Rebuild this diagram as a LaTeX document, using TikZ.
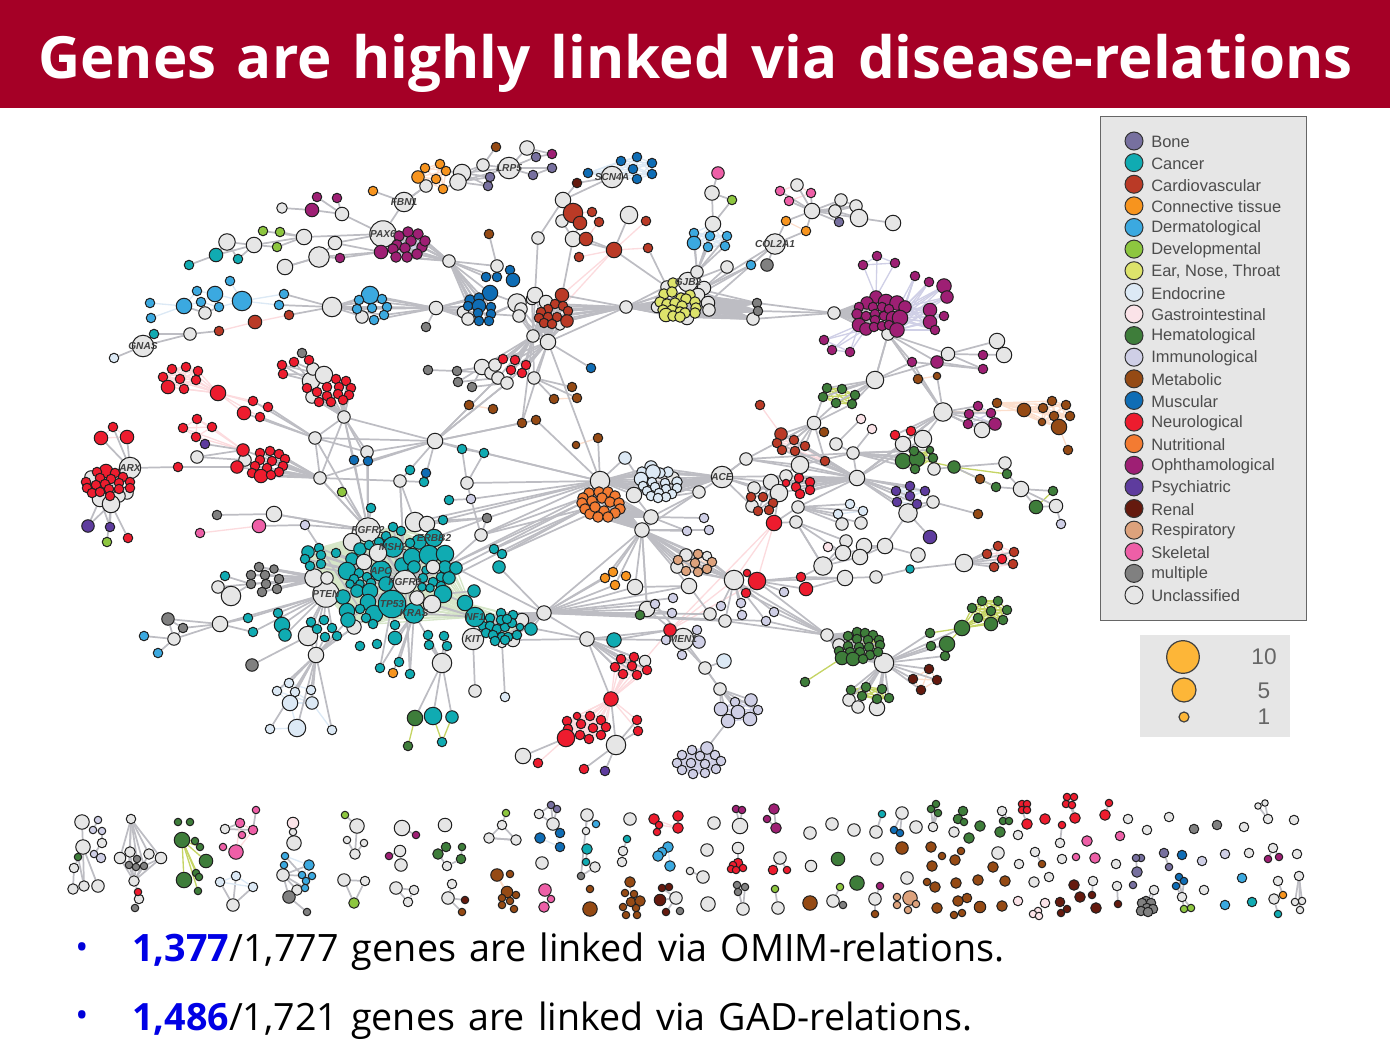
\documentclass[tikz,border=0pt]{standalone}
\usepackage{fontspec}
\setmainfont{Open Sans}
\newfontfamily\titlefont[WordSpace=1.25]{Open Sans}
\newfontfamily\bodyfont[WordSpace=1.35]{Open Sans}
\newfontfamily\legendfont{Liberation Sans}
\usetikzlibrary{backgrounds}

\definecolor{cTitle}{HTML}{A50026}
\definecolor{cBone}{HTML}{77709F}
\definecolor{cCancer}{HTML}{10ABB2}
\definecolor{cCardio}{HTML}{BA3A26}
\definecolor{cConn}{HTML}{F7941E}
\definecolor{cDerm}{HTML}{3BA9E0}
\definecolor{cDevel}{HTML}{8DC63F}
\definecolor{cENT}{HTML}{DDE36B}
\definecolor{cEndo}{HTML}{DCE9F5}
\definecolor{cGastro}{HTML}{FBE3E8}
\definecolor{cHemat}{HTML}{3E7D3A}
\definecolor{cImmun}{HTML}{CFCFE6}
\definecolor{cMetab}{HTML}{954A14}
\definecolor{cMuscle}{HTML}{0F6DB5}
\definecolor{cNeuro}{HTML}{ED1C2E}
\definecolor{cNutri}{HTML}{F37B32}
\definecolor{cOphth}{HTML}{9E1F74}
\definecolor{cPsych}{HTML}{5E3C9E}
\definecolor{cRenal}{HTML}{651A0E}
\definecolor{cResp}{HTML}{DDA27C}
\definecolor{cSkel}{HTML}{EE5FA7}
\definecolor{cMulti}{HTML}{808080}
\definecolor{cUnc}{HTML}{E6E6E6}
\definecolor{cLink}{HTML}{BDBDC3}
\definecolor{cTint}{HTML}{D6E6C8}
\definecolor{cSize}{HTML}{FDB638}

\tikzset{
	gene/.style={circle,draw=black!88,line width=0.75pt,inner sep=0pt,fill=#1},
	link/.style={draw=cLink,line width=1.3pt},
	pinklink/.style={draw=cNeuro!16,line width=1pt},
	greenlink/.style={draw=cTint,line width=1pt},
	limelink/.style={draw=cENT!85!cHemat,line width=1pt},
	bluelink/.style={draw=cEndo,line width=1pt},
	purplelink/.style={draw=cImmun,line width=1pt},
	orangelink/.style={draw=cNutri!25,line width=1pt},
	genelabel/.style={font=\legendfont\bfseries\itshape\fontsize{7.6}{8}\selectfont,text=black!75,inner sep=0pt},
	legendtext/.style={font=\legendfont\fontsize{12.35}{14}\selectfont,text=black!70,anchor=west,inner sep=0pt},
	legenddot/.style={circle,draw=black!80,line width=0.75pt,inner sep=0pt,minimum size=13.5pt,fill=#1},
	sizedot/.style={circle,draw=black!75,line width=0.9pt,inner sep=0pt,fill=#1},
	sizetext/.style={font=\legendfont\fontsize{17}{20}\selectfont,text=black!60,inner sep=0pt}
}

% nodes of one group: prefix, colour, x/y/diameter in pixels
\newcommand{\genes}[3]{%
	\foreach \x/\y/\d [count=\i] in {#3} {
		\node[gene=#2,minimum size={(\d+1.5)*0.75pt},alias=#1-\x] (#1\i) at (\x,\y) {};
		\expandafter\xdef\csname size#1\endcsname{\i}
	}
}
% hub to all nodes of a group
\newcommand{\fan}[3][link]{%
	\edef\topn{\csname size#3\endcsname}
	\foreach \k in {1,...,\topn} \draw[#1] (#2) -- (#3\k);
}
% all pairs inside a group
\newcommand{\mesh}[2][link]{%
	\edef\topn{\csname size#2\endcsname}
	\foreach \k in {1,...,\topn} \foreach \m in {1,...,\topn} {
		\ifnum\k<\m \draw[#1] (#2\k) -- (#2\m); \fi
	}
}

\begin{document}
\begin{tikzpicture}[x=0.75pt,y=-0.75pt]
	\useasboundingbox (0,0) rectangle (1390,1043);

	% Title bar and bottom lines
	\fill[cTitle] (0,0) rectangle (1390,108);
	\node[anchor=base west,inner sep=0pt,text=white,font=\titlefont\bfseries\fontsize{43.7}{50}\selectfont] (title) at (38,78) {Genes are highly linked via disease-relations};
	\node[text=blue!85!black,font=\fontsize{26}{30}\selectfont,inner sep=0pt] (bulletA) at (82,951) {\textbullet};
	\node[text=blue!85!black,font=\fontsize{26}{30}\selectfont,inner sep=0pt] (bulletB) at (82,1019) {\textbullet};
	\node[anchor=base west,inner sep=0pt,font=\bodyfont\fontsize{28.3}{30}\selectfont] (lineA) at (132,961) {\textcolor{blue!90!black}{\textbf{1,377}}/1,777 genes are linked via OMIM-relations.};
	\node[anchor=base west,inner sep=0pt,font=\bodyfont\fontsize{28.2}{30}\selectfont] (lineB) at (132,1030) {\textcolor{blue!90!black}{\textbf{1,486}}/1,721 genes are linked via GAD-relations.};

	% Legend
	\draw[draw=black!60,fill=cUnc,line width=0.75pt] (1100,116) rectangle (1306,620);
	\foreach \lab/\col [count=\i from 0] in {Bone/cBone,Cancer/cCancer,Cardiovascular/cCardio,Connective tissue/cConn,Dermatological/cDerm,Developmental/cDevel,{Ear, Nose, Throat}/cENT,Endocrine/cEndo,Gastrointestinal/cGastro,Hematological/cHemat,Immunological/cImmun,Metabolic/cMetab,Muscular/cMuscle,Neurological/cNeuro,Nutritional/cNutri,Ophthamological/cOphth,Psychiatric/cPsych,Renal/cRenal,Respiratory/cResp,Skeletal/cSkel,multiple/cMulti,Unclassified/cUnc} {
		\node[legenddot=\col] (dot\i) at (1134,{141+21.62*\i}) {};
		\node[legendtext] (legend\i) at (1151,{142+21.62*\i}) {\lab};
	}
	\fill[cUnc] (1140,635) rectangle (1290,737);
	\node[sizedot=cSize,minimum size=24.5pt] (sizeA) at (1183,657) {};
	\node[sizedot=cSize,minimum size=18pt] (sizeB) at (1184,690) {};
	\node[sizedot=cSize,minimum size=7.5pt] (sizeC) at (1184,717) {};
	\node[sizetext] (sizeTextA) at (1264,657) {10};
	\node[sizetext] (sizeTextB) at (1264,691) {5};
	\node[sizetext] (sizeTextC) at (1264,717) {1};

	% Unclassified genes of the network
	\genes{u}{cUnc}{282/208/9,342/214/12,304/237/14,254/245/14,227/242/15,335/243/12,319/257/19,285/267/14,383/234/25,404/202/18,205/313/11,332/307/18,362/317/11,190/334/11,143/346/20,426/186/11,462/173/16,458/182/15,483/165/11,509/168/20,527/148/13,612/177/20,563/200/14,562/221/11,573/239/14,538/238/11,629/215/16,449/261/11,497/266/11,436/308/12,463/312/10,468/319/11,517/303/17,532/299/10,535/295/14,521/309/11,519/316/11,546/302/12,560/325/9,533/336/11,548/342/14,626/307/11,688/282/18,667/287/11,704/288/12,698/295/12,708/303/12,709/310/11,657/307/10,687/318/12,697/272/11,727/267/11,713/224/14,712/193/13,797/185/11,812/211/14,841/200/11,856/206/11,835/211/11,859/218/16,893/223/14,775/244/19,753/319/11,834/313/11,888/334/11,948/354/12,997/341/14,1004/355/14,875/380/16,943/412/17,982/430/14,903/444/14,923/439/16,934/469/11,1005/463/11,1021/489/14,1056/506/12,857/478/14,853/453/11,836/444/11,814/423/12,746/459/11,800/465/16,786/476/11,771/482/14,754/488/11,779/493/16,798/507/11,752/506/11,796/522/11,908/513/17,933/502/11,842/524/11,861/523/11,885/546/14,918/555/13,864/546/14,846/541/11,843/553/14,860/557/14,823/566/17,845/578/14,876/577/11,964/563/16,311/381/16,313/369/11,324/375/16,312/397/11,344/417/11,315/438/11,367/452/11,320/478/11,400/481/11,435/441/14,197/457/11,245/460/11,130/468/20,91/477/11,127/493/11,119/496/11,100/499/14,111/504/16,274/514/14,415/522/18,427/524/14,368/530/23,352/542/16,326/594/25,314/578/17,327/578/11,231/596/18,218/587/11,220/624/14,308/636/18,316/655/14,174/639/11,354/627/13,442/663/18,473/639/20,475/691/11,513/640/12,522/620/12,502/643/8,482/367/14,491/373/11,495/365/11,498/378/11,507/383/11,534/378/11,481/535/11,467/483/11,600/481/18,634/495/14,651/517/13,642/530/13,699/492/11,722/477/20,673/478/11,686/555/11,707/556/8,677/567/11,734/580/18,689/586/14,635/587/14,544/613/13,647/609/14,710/614/11,725/621/11,587/639/13,683/639/20,705/668/11,720/689/11,645/661/10,616/745/18,523/756/14,827/635/11,839/645/11,884/663/18,849/700/11,858/707/11,877/708/14}

	% Coloured genes of the network, cluster by cluster
	\genes{can}{cCancer}{308/552/11,319/548/8,305/559/8,321/555/8,321/564/8,310/566/8,336/553/8,360/549/11,352/559/11,369/545/8,379/542/8,386/536/8,393/527/8,401/531/8,393/547/19,381/571/19,347/571/16,359/573/8,354/579/8,367/577/8,350/584/7,360/584/7,357/591/11,371/583/8,370/591/14,386/584/13,402/565/13,412/557/16,414/567/11,419/542/13,434/538/16,410/543/8,429/555/18,445/554/16,426/570/7,445/567/11,456/568/11,441/577/8,449/578/11,423/578/8,433/582/8,441/586/8,422/587/7,430/588/7,443/594/16,343/597/13,368/602/14,347/611/14,348/620/13,360/609/8,374/614/16,366/618/8,373/624/8,392/604/26,414/613/19}
	\genes{u}{cUnc}{378/553/16,364/562/14,433/567/12,405/582/22,417/598/13,432/604/16}
	\genes{canb}{cCancer}{490/618/8,501/613/8,513/615/8,483/626/8,490/626/8,497/629/8,505/627/8,512/623/8,486/633/8,493/635/8,502/637/8,508/637/8,517/635/8,495/641/8,505/640/8,501/620/8,520/627/6,507/619/8}
	\genes{ca}{cCancer}{189/265/8,216/255/12,238/259/8,154/334/8,410/470/8,424/482/8,462/449/8,484/453/8,371/508/8,449/500/8,443/520/8,494/549/8,502/554/8,499/567/11,474/591/11,465/603/14,475/617/18,531/629/11,614/640/13,225/576/8,278/613/8,248/618/8,253/632/8,282/625/14,285/635/11,311/622/8,324/620/8,317/629/8,332/628/8,325/637/8,337/636/8,395/625/8,395/638/12,377/644/8,360/646/8,380/668/8,399/662/8,410/674/8,428/635/8,444/636/8,429/645/8,447/646/8,433/716/16,452/717/11,442/742/8,910/569/7}
	\genes{opa}{cOphth}{399/236/9,408/232/9,418/234/9,411/241/9,397/245/9,393/249/9,405/248/9,422/247/9,425/241/9,417/254/9,396/257/9,407/257/9}
	\genes{op}{cOphth}{312/210/12,317/197/8,337/198/8,340/258/8,381/252/12,552/154/8,983/355/8,983/369/8,937/362/11,912/362/8}
	\genes{opb}{cOphth}{876/297/11,886/302/14,897/303/13,905/307/11,867/303/11,859/307/8,857/314/9,866/316/8,873/307/8,875/314/8,882/307/8,884/316/8,889/309/8,893/318/12,900/318/14,859/325/12,866/329/11,875/320/8,874/327/8,882/326/8,889/325/8,897/330/13}
	\genes{opc}{cOphth}{877/256/8,863/265/8,895/263/8}
	\genes{opd}{cOphth}{915/276/8,929/282/8,944/286/13,947/297/11,930/310/12,944/316/8,930/322/12,935/330/8}
	\genes{ope}{cOphth}{824/340/8,832/350/8,850/352/8}
	\genes{opf}{cOphth}{978/406/8,991/413/8,968/424/8,969/414/8,995/424/11}
	\genes{nea}{cNeuro}{172/369/8,186/367/8,198/371/8,163/377/8,180/379/8,196/380/8,168/387/12,184/389/8}
	\genes{neb}{cNeuro}{253/401/8,268/407/8,244/413/12,260/417/8}
	\genes{nec}{cNeuro}{282/365/8,294/362/8,309/360/8,283/374/8}
	\genes{ned}{cNeuro}{307/388/8,336/379/8,346/381/8,327/387/8,351/388/8,339/387/8,317/392/8,338/394/8,349/395/8,327/396/8,319/402/8,331/402/8,343/400/8}
	\genes{nee}{cNeuro}{197/419/8,183/428/8,212/427/8,196/437/8}
	\genes{nef}{cNeuro}{243/450/11,237/467/11,260/453/8,270/451/8,279/454/8,260/460/8,272/461/8,285/459/8,255/466/8,267/468/8,283/466/8,252/473/8,279/472/8,261/476/12,271/475/8}
	\genes{neg}{cNeuro}{113/427/8,101/438/12,127/437/12}
	\genes{neh}{cNeuro}{106/471/12,97/472/8,115/473/8,100/478/8,111/479/8,123/477/8,86/482/8,105/484/8,119/483/8,130/482/8,96/485/8,87/488/8,109/489/8,119/489/8,130/488/8,92/493/8,100/492/8,110/496/8}
	\genes{nei}{cNeuro}{503/359/8,515/360/8,526/365/8,511/370/8,522/373/8}
	\genes{nej}{cNeuro}{799/478/8,810/482/8,796/487/8,810/490/8,800/494/8,786/483/6}
	\genes{nek}{cNeuro}{621/659/8,634/657/8,615/667/8,632/666/8,647/670/8,623/674/8,637/675/8}
	\genes{nel}{cNeuro}{577/716/6,567/721/8,590/716/8,601/720/8,581/724/8,606/727/8,593/728/8,568/729/8,580/735/8,601/735/8,589/739/8,566/738/16}
	\genes{ne}{cNeuro}{218/393/14,178/467/8,128/538/8,895/435/8,911/431/8,774/523/14,1002/559/8,757/581/16,747/573/6,746/593/8,801/577/8,806/589/12,670/630/11,611/699/13,637/720/8,638/731/8,538/763/8,584/769/8}
	\genes{cara}{cCardio}{562/295/12,555/304/8,563/306/8,548/309/8,568/311/8,541/312/8,557/317/8,548/317/8,539/318/8,567/321/11,544/323/8,552/324/8}
	\genes{carb}{cCardio}{781/434/11,794/440/8,777/443/8,805/446/8,782/450/8,795/451/8,825/461/8}
	\genes{carc}{cCardio}{751/497/8,763/497/8,773/503/8,769/510/8,758/511/8}
	\genes{card}{cCardio}{998/546/8,987/554/8,1014/552/8,1013/564/8,994/567/8}
	\genes{cv}{cCardio}{289/315/8,255/322/12,219/331/8,573/213/18,592/212/8,599/222/8,580/223/12,586/239/12,579/257/8,614/250/14,646/221/8,648/248/8,760/405/8}
	\genes{mua}{cMuscle}{490/293/14,470/300/9,479/298/9,468/306/8,479/306/12,491/307/8,478/313/8,491/314/8,479/321/8,489/321/8}
	\genes{mub}{cMuscle}{510/270/8,486/277/8,497/277/8,513/280/12}
	\genes{muc}{cMuscle}{637/157/8,621/161/8,652/163/8,633/169/8,652/174/8,637/179/8,588/173/8}
	\genes{mu}{cMuscle}{591/368/8,354/460/8,368/461/8,426/473/8}
	\genes{dea}{cDerm}{230/281/8,215/294/14,197/291/8,201/302/8,184/306/14,219/307/8,242/301/18,150/303/8,151/318/8}
	\genes{deb}{cDerm}{284/294/8,279/305/8}
	\genes{dec}{cDerm}{370/295/16,359/300/8,382/299/8,387/307/8,372/308/8,357/309/8,384/315/8,374/320/8}
	\genes{ded}{cDerm}{694/233/8,710/236/8,727/236/8,694/243/12,708/247/8,725/246/8}
	\genes{de}{cDerm}{751/265/8,144/636/8,158/653/8}
	\genes{mea}{cMetab}{997/403/8,1024/410/12,1043/408/8,1052/401/8,1066/405/8,1054/416/8,1070/416/8,1042/422/6,1059/427/14}
	\genes{me}{cMetab}{496/147/8,489/234/8,469/405/8,493/409/8,572/387/8,577/398/8,554/399/8,522/423/8,536/420/8,598/438/8,576/445/6,918/379/8,937/376/6,824/432/8,980/479/8,978/514/8,1068/450/8}
	\genes{coa}{cConn}{440/164/8,425/168/8,446/171/8,418/177/11,436/179/8,443/189/8}
	\genes{co}{cConn}{373/191/8,786/221/8,806/231/8,613/572/8,626/576/8,605/578/8,615/585/8,393/673/8}
	\genes{nu}{cNutri}{589/493/9,599/492/9,608/492/9,615/496/9,583/498/9,592/501/9,602/498/9,610/502/9,619/503/9,582/503/9,620/509/9,585/509/9,604/511/9,615/513/9,590/514/9,598/517/9,608/517/9,595/507/9}
	\genes{ena}{cEndo}{651/467/11,642/472/9,668/472/9,660/473/9,653/472/13,641/479/12,652/482/8,665/483/8,677/482/9,643/486/8,655/487/8,677/488/8,647/491/8,666/489/8,659/493/8,672/494/8,651/496/8,666/497/8,658/498/8}
	\genes{enb}{cEndo}{850/504/8,863/511/8,838/514/8}
	\genes{enc}{cEndo}{289/683/8,277/691/8,295/692/8,311/690/8,290/703/14,312/703/11,297/728/16,270/729/8,332/730/8}
	\genes{en}{cEndo}{114/358/8,625/458/11,724/661/13,505/697/8}
	\genes{ima}{cImmun}{721/709/12,735/702/8,751/700/11,758/710/8,738/712/12,750/719/12,728/721/12}
	\genes{imb}{cImmun}{707/748/11,692/750/8,682/755/8,700/756/8,715/755/8,721/761/8,677/763/8,691/763/8,705/764/8,682/770/8,716/769/8,693/774/8,705/773/8}
	\genes{im}{cImmun}{471/499/8,305/525/8,704/518/8,687/531/8,709/530/8,784/592/8,673/598/8,655/604/8,672/613/8,721/606/8,741/603/8,742/615/8,774/612/8,766/621/8,697/630/8,699/642/11,666/640/8,682/655/8,1061/524/8}
	\genes{mxa}{cMulti}{259/567/8,274/569/7,251/575/8,265/575/8,279/579/8,251/584/8,266/584/8,277/589/8,262/592/8}
	\genes{mx}{cMulti}{217/515/8,252/665/11,168/619/11,183/628/8,426/327/8,302/353/8,428/370/8,457/371/8,458/382/8,472/387/8,757/303/8,758/311/8,767/265/11,487/518/8}
	\genes{bo}{cBone}{536/157/8,552/168/8,533/175/8,490/177/8,488/186/8,839/222/8}
	\genes{sk}{cSkel}{718/173/11,780/191/8,811/193/8,789/201/8,259/526/12,200/533/8}
	\genes{dv}{cDevel}{263/231/8,280/232/8,277/247/8,732/200/8,342/492/8,107/542/8}
	\genes{psa}{cPsych}{910/486/8,896/491/8,925/491/8,910/496/8,897/502/8,917/504/8}
	\genes{ps}{cPsych}{205/444/8,88/526/11,110/527/8,605/771/8,930/537/12}
	\genes{re}{cRenal}{577/183/8}
	\genes{rea}{cRenal}{929/669/8,913/679/8,937/680/8,921/690/8}
	\genes{resp}{cResp}{698/554/8,678/560/8,695/563/8,712/562/8,686/571/8,698/572/8,707/569/8}
	\genes{ent}{cENT}{673/283/9,664/294/9,672/292/9,690/295/9,681/298/9,660/302/9,667/304/9,675/303/9,686/299/9,695/302/9,682/306/9,696/308/9,672/310/9,663/310/9,680/312/9,695/313/9,666/315/12,685/313/9,673/316/9,680/317/9}
	\genes{ga}{cGastro}{861/419/8,872/429/8,828/547/8}
	\genes{hea}{cHemat}{848/636/8,857/632/8,865/633/8,873/635/8,879/640/8,857/639/8,868/640/8,848/646/8,859/647/8,869/647/8,880/645/8,839/651/8,850/652/8,860/652/8,870/655/8,878/652/8,842/658/12,853/659/12,863/659/8}
	\genes{heb}{cHemat}{827/388/8,842/389/8,823/397/8,855/395/8,836/403/8,852/404/8}
	\genes{hec}{cHemat}{903/461/14,917/459/14,914/451/8,930/450/6,933/458/8,915/469/8}
	\genes{hed}{cHemat}{930/633/8,931/646/8,947/644/14,945/656/8}
	\genes{hee}{cHemat}{962/628/14,982/601/8,998/601/8,972/608/8,1007/610/8,991/611/8,978/618/8,1003/620/8,991/624/12}
	\genes{hef}{cHemat}{851/690/8,866/687/8,882/689/8,862/696/8,877/699/8,889/698/8}
	\genes{he}{cHemat}{954/467/11,1007/474/8,996/487/8,1053/491/8,1036/507/12,640/615/8,805/682/8,415/718/14,408/746/8}

	% Small components in the row below the network
	\genes{v}{cUnc}{82/822/13,102/843/8,83/847/13,74/868/8,73/889/9,84/886/9,98/886/11,131/819/8,120/858/10,130/852/9,149/854/9,161/858/10,134/881/9,139/899/8,225/829/8,233/905/11,294/843/13,293/832/6,283/875/11,297/890/9,357/826/13,347/840/6,364/843/6,355/854/9,344/880/11,365/881/8,402/828/14,400/851/10,401/865/11,396/888/11,414/890/8,408/902/8,445/825/12,447/866/8,452/884/8,448/898/11,502/825/8,489/838/9,516/840/9,539/814/8,553/824/11,542/863/11,587/815/11,586/831/6,595/867/9,630/819/11,623/851/8,622/862/8,676/898/11,690/871/6,703/877/11,714/823/11,707/850/11,740/826/14,738/848/10,780/858/11,811/866/10,708/904/13,743/909/11,778/908/11,810/833/11,832/824/11,854/830/11,902/813/11,876/832/11,916/827/11,877/859/11,833/901/11,875/899/11,907/878/11,933/827/8,954/832/9,1002/811/8,1018/835/8,1060/843/8,998/853/11,1019/864/8,1128/819/8,1147/830/8,1169/817/8,1244/827/8,1258/806/5,1265/803/5,1268/819/8,1294/820/8,1035/852/8,1062/859/8,1116/864/8,1249/853/8,1273/848/8,1297/854/8,1034/882/9,1049/877/8,1093/881/8,1117/886/8,1154/890/8,1182/897/8,1204/890/8,1278/881/8,1274/899/9,1299/876/8,1302/901/6,1295/902/6,1300/910/6}
	\genes{rim}{cImmun}{98/820/6,93/830/6,102/831/6,94/854/6,101/858/8,1202/861/8,1225/854/8}
	\genes{rhe}{cHemat}{78/857/6,178/822/6,190/822/6,182/840/14,195/841/6,200/847/6,206/861/12,196/873/6,199/877/6,184/880/14,198/891/6,446/847/8,462/847/6,438/854/9,461/859/8,838/859/12,857/883/13,931/809/6,936/804/6,938/813/6,963/811/8,958/819/8,964/822/6,980/826/9,969/838/9,1003/821/6,1009/821/6,1000/832/9}
	\genes{rmx}{cMulti}{137/859/6,129/865/6,144/866/6,136/867/6,135/908/6,289/897/11,307/912/6,581/876/6,680/911/6,737/885/6,745/887/6,738/892/6,843/905/6,1194/829/8,1217/825/8}
	\genes{rmy}{cMulti}{1146/901/8,1142/903/8,1151/903/8,1147/908/8,1141/911/8,1153/909/8,1148/912/8}
	\genes{rsk}{cSkel}{256/810/6,240/823/8,253/830/8,242/835/6,223/847/6,236/852/13,545/890/11,551/899/6,544/907/9,1120/836/8,1087/841/9,1076/857/6,1095/858/9}
	\genes{ren}{cEndo}{220/882/8,236/876/8,253/887/8}
	\genes{rga}{cGastro}{293/823/10,1018/901/8,1045/903/8,1038/911/6,1033/914/6,1039/916/6}
	\genes{rde}{cDerm}{285/856/6,309/865/9,284/865/6,302/875/6,312/876/6,306/881/6,305/888/6,596/824/6,668/847/9,662/852/8,658/856/9,670/866/9,1242/878/8,1225/905/8}
	\genes{rdv}{cDevel}{345/815/6,354/903/9,506/813/6,775/889/6,840/887/6,1184/909/6,1191/908/6}
	\genes{rop}{cOphth}{416/835/6,389/856/6,736/809/6,742/810/6,774/809/9,767/819/6,776/828/9,880/886/6,1268/859/6,1279/857/6}
	\genes{rre}{cRenal}{465/900/6,662/888/6,669/887/6,660/900/10,666/912/6,1074/885/9,1092/895/6,1118/904/6,1080/897/9,1096/908/9,1060/902/8,1067/909/6,1061/913/6}
	\genes{rme}{cMetab}{462/912/6,497/875/11,510/874/6,507/892/10,516/895/6,502/898/6,510/901/6,502/905/6,514/909/6,590/889/6,590/909/13,630/882/9,625/893/6,634/894/6,631/902/8,640/901/9,623/907/6,636/908/6,626/915/6,637/915/6,810/903/13,875/914/6,927/882/6,935/887/9,902/848/11,931/847/9,942/856/6,961/851/6,955/860/9,932/866/9,993/867/9,956/883/9,978/880/9,1005/881/9,937/908/9,958/901/9,967/898/8,962/913/6,954/915/6,980/907/10,1002/906/9,1042/864/6}
	\genes{rbo}{cBone}{551/805/6,557/809/6,1141/858/6,1136/858/6,1137/872/9,1164/853/8,1169/867/6,1133/885/6}
	\genes{rmu}{cMuscle}{560/833/8,540/838/9,560/847/8,894/830/6,900/833/6,1182/855/8,1179/877/6,1184/881/6,1176/886/6}
	\genes{rne}{cNeuro}{138/892/6,654/819/9,678/816/9,659/825/6,678/828/9,657/832/6,738/863/8,733/865/6,743/868/6,731/869/6,736/870/6,773/870/8,787/870/6,1022/804/6,1027/804/6,1022/810/6,1027/810/6,1027/824/9,1045/819/9,1062/825/6,1067/797/6,1074/797/6,1066/804/6,1072/805/6,1075/818/9,1109/803/6,1105/815/9}
	\genes{rca}{cCancer}{587/849/9,586/862/6,627/839/6,882/814/6,1252/902/8,1278/914/6}
	\genes{rrs}{cResp}{910/898/13,897/897/6,897/905/6,916/904/6,908/910/6}
	\genes{rco}{cConn}{1283/895/6}

	% Gene names
	\foreach \hub/\txt in {u-404/FBN1,u-509/LRP5,u-612/SCN4A,u-383/PAX6,u-143/GNAS,u-688/GJB2,u-775/COL2A1,u-130/ARX,u-722/ACE,u-368/FGFR2,can-393/MSH2,can-434/ERBB2,can-381/APC,u-405/FGFR3,u-326/PTEN,can-392/TP53,can-414/KRAS,ca-475/NF1,u-473/KIT,u-683/MEN1}
		\node[genelabel] (name\txt) at (\hub) {\txt};

	\begin{scope}[on background layer]
		% Tinted edges within clusters
		\mesh[greenlink]{can}
		\mesh[greenlink]{canb}
		\fan[greenlink]{ca-475}{can}
		\fan[greenlink]{u-326}{can}
		\fan[greenlink]{ca-465}{canb}
		\mesh[bluelink]{muc}
		\mesh[bluelink]{ded}
		\mesh[bluelink]{psa}
		\mesh[bluelink]{enb}
		\mesh[pinklink]{nea}
		\mesh[pinklink]{nee}
		\mesh[pinklink]{neg}
		\mesh[pinklink]{nek}
		\mesh[pinklink]{nel}
		\mesh[pinklink]{carb}
		\mesh[pinklink]{card}
		\mesh[orangelink]{coa}
		\mesh[orangelink]{mea}
		\mesh[orangelink]{rea}
		\mesh[orangelink]{resp}
		\mesh[limelink]{heb}
		\mesh[limelink]{hec}
		\mesh[limelink]{hee}
		\mesh[limelink]{hef}
		\mesh[limelink]{hea}
		\mesh[purplelink]{opa}
		\mesh[purplelink]{opc}
		\mesh[purplelink]{ope}
		\mesh[purplelink]{opf}
		\mesh[purplelink]{ima}
		\mesh[purplelink]{imb}
		\fan[pinklink]{ne-218}{nea}
		\fan[pinklink]{ne-218}{neb}
		\fan[pinklink]{nef-243}{nee}
		\fan[pinklink]{ne-611}{nek}
		\fan[pinklink]{ne-611}{nel}
		\fan[purplelink]{opb-905}{opd}
		\fan[purplelink]{opb-900}{opd}
		\fan[purplelink]{opb-897}{opd}
		\fan[purplelink]{opb-893}{opd}
		\fan[purplelink]{opb-876}{opc}
		\fan[purplelink]{opb-859}{ope}
		\fan[purplelink]{opb-866}{ope}
		\fan[bluelink]{u-612}{muc}
		\fan[bluelink]{u-713}{ded}
		\foreach \a/\b in {dea-150/dea-184,dea-151/dea-184,dea-184/dea-197,dea-184/dea-201,dea-201/dea-215,dea-215/dea-242,dea-219/dea-242,dea-197/dea-215,dea-230/dea-242,dea-219/dea-215,dea-201/dea-219,dea-242/deb-284,dea-242/deb-279,enc-289/enc-277,enc-289/enc-295,enc-289/enc-311,enc-277/enc-290,enc-295/enc-290,enc-295/enc-312,enc-290/enc-312,enc-311/enc-312,enc-277/enc-312,enc-290/enc-297,enc-270/enc-297,enc-312/enc-332}
			\draw[bluelink] (\a) -- (\b);
		\foreach \a/\b in {ne-670/ne-611,u-734/ne-670,ne-757/ne-670,ne-774/ne-757,ne-774/u-734,ne-774/ne-670,ne-611/ne-637,ne-611/ne-638,nel-566/ne-538,cv-289/cv-255,cv-255/cv-219,cv-579/cv-614,cv-614/cara-562,cv-614/cara-563,cv-614/cv-646,cv-614/cv-648,cv-573/cv-592,cv-599/cv-586,cv-592/cv-599,cv-760/carb-781,sk-259/sk-200,sk-780/u-797,sk-811/u-797,sk-789/sk-811}
			\draw[pinklink] (\a) -- (\b);
		\foreach \a/\b in {hec-917/he-954,he-954/he-1007,he-954/he-996,he-1053/he-1036,hee-962/hed-947,hee-962/hed-930,he-805/hea-842,he-415/he-408,ca-433/ca-442,ca-452/ca-442}
			\draw[limelink] (\a) -- (\b);
		\foreach \a/\b in {me-469/me-493,me-554/me-577,me-576/me-598,me-918/me-937,co-786/co-806,u-943/mea-1024,me-1068/mea-1059}
			\draw[orangelink] (\a) -- (\b);

		% Hubs to clusters
		\fan{u-449}{opa}
		\fan{u-383}{opa}
		\fan{u-449}{mua}
		\fan{u-436}{mua}
		\fan{u-436}{dec}
		\fan{u-332}{dec}
		\fan{u-533}{cara}
		\fan{u-548}{cara}
		\fan{u-626}{cara}
		\fan{u-626}{ent}
		\fan{mx-757}{ent}
		\fan{mx-758}{ent}
		\fan{u-753}{ent}
		\fan{u-834}{opb}
		\fan{u-697}{ded}
		\fan{u-875}{heb}
		\fan{u-853}{hec}
		\fan{u-857}{psa}
		\fan{u-857}{nej}
		\fan{u-857}{carb}
		\fan{u-814}{carb}
		\fan{u-943}{opf}
		\fan{u-798}{enb}
		\fan{u-964}{card}
		\fan{u-771}{carc}
		\fan{u-779}{carc}
		\fan{u-722}{ena}
		\fan{u-600}{ena}
		\fan{u-600}{nu}
		\fan{u-642}{nu}
		\fan{u-651}{nu}
		\fan{u-642}{resp}
		\fan{u-734}{resp}
		\fan{u-544}{canb}
		\fan{u-827}{hea}
		\fan{u-884}{hea}
		\fan{u-884}{hed}
		\fan{u-884}{rea}
		\fan{u-884}{hef}
		\fan{u-720}{ima}
		\fan{u-587}{nek}
		\fan{u-315}{neb}
		\fan{u-344}{ned}
		\fan{u-311}{nec}
		\fan{u-324}{nec}
		\fan{u-320}{nef}
		\fan{u-130}{neg}
		\fan{u-130}{neh}
		\fan{u-533}{nei}
		\fan{u-548}{nei}
		\fan{u-314}{mxa}
		\fan{u-327}{mxa}
		\fan{u-316}{enc}
		\fan{u-405}{can}

		% Single connectors of the network
		\foreach \a/\b in {u-404/co-373,u-404/u-383,u-404/u-426,u-342/u-383,op-312/u-342,op-312/u-282,op-317/u-342,op-337/u-342,u-383/u-304,u-304/u-254,dv-263/u-304,dv-280/u-304,dv-277/u-304,u-254/u-227,u-254/dv-277,u-254/ca-216,u-254/ca-238,u-227/ca-238,u-227/ca-216,ca-216/ca-189,u-319/u-285,u-319/u-285,u-319/u-335,u-319/op-340,u-319/op-381,u-335/op-381,u-383/u-335,op-340/op-381,u-383/op-381,
			u-449/u-497,u-449/mub-486,u-449/mub-497,u-497/me-489,u-436/mx-426,u-436/u-463,u-436/u-468,u-332/deb-284,u-332/deb-279,u-332/cv-289,cv-219/u-190,u-190/ca-154,u-190/u-143,u-143/ca-154,u-143/en-114,dea-184/u-205,dea-219/u-205,
			u-533/u-517,u-533/u-532,u-533/u-535,u-533/u-521,u-533/u-519,u-533/u-546,u-533/u-560,u-548/u-517,u-548/u-535,u-548/u-546,u-548/u-519,u-548/u-560,u-548/u-533,u-517/mua-479,u-517/mua-491,u-519/mua-491,u-626/u-548,u-535/u-538,u-538/u-563,u-563/re-577,u-563/u-612,re-577/u-612,mua-490/u-517,
			u-573/cv-586,u-562/u-573,u-562/cv-573,u-573/cv-580,cv-586/cv-614,u-573/cv-614,u-573/cara-562,cv-614/u-629,cv-648/u-667,cv-614/u-667,
			coa-446/u-462,coa-443/u-458,u-426/u-404,u-462/u-483,u-462/bo-490,u-462/bo-488,u-458/u-483,u-458/bo-490,u-458/bo-488,u-462/u-509,u-458/u-509,u-483/me-496,u-509/u-527,u-509/bo-536,u-509/bo-552,u-509/bo-533,u-527/op-552,u-527/bo-536,u-483/u-509,bo-533/bo-552,bo-536/op-552,
			u-834/mx-757,u-834/mx-758,u-834/u-753,u-697/u-688,u-697/ent-673,u-697/u-667,u-697/u-704,u-713/u-712,u-713/dv-732,u-712/sk-718,u-712/dv-732,u-713/u-697,u-727/u-704,u-727/u-688,de-751/u-704,de-751/u-698,u-775/u-704,u-775/u-708,mx-767/u-775,u-775/de-751,u-775/co-786,u-775/co-806,u-812/co-786,u-812/co-806,u-812/u-797,u-812/sk-780,u-812/sk-811,u-812/sk-789,u-812/u-841,u-812/u-835,u-812/u-856,u-812/u-859,bo-839/u-812,u-859/u-893,u-841/u-856,u-835/u-859,u-841/u-835,u-856/u-859,u-835/bo-839,u-835/u-856,
			u-888/u-875,u-888/u-875,u-888/op-912,u-888/op-937,u-888/u-948,u-888/u-943,u-888/u-943,u-875/op-912,u-875/op-937,u-948/u-997,u-948/u-1004,u-948/op-983,op-937/op-983,op-937/u-948,op-912/op-983,me-937/u-943,op-912/u-943,opb-897/u-888,
			heb-823/u-814,heb-836/u-814,heb-852/u-814,u-814/u-746,u-814/me-824,u-853/u-836,u-857/u-943,u-857/u-943,u-857/u-903,u-857/u-923,u-857/u-853,u-857/u-800,u-857/u-786,u-857/u-771,u-857/u-754,u-857/u-779,u-857/u-798,u-857/u-746,u-857/u-908,u-853/u-746,u-853/u-800,u-853/hec-903,u-836/ga-861,u-853/ga-872,u-943/u-903,u-943/u-923,u-943/ne-895,u-943/ne-911,u-943/u-982,u-943/opf-968,me-980/he-996,he-954/me-980,he-954/u-1005,he-1007/u-1021,he-996/u-1021,u-1021/he-1053,u-1021/he-1036,u-1021/u-1056,he-1036/u-1056,u-1056/im-1061,u-1005/he-1007,u-934/he-954,
			u-933/psa-925,u-933/psa-917,u-933/me-978,u-908/u-933,u-908/ps-930,u-908/u-885,u-908/psa-917,u-798/u-842,u-798/u-861,u-796/u-823,u-796/u-843,u-796/u-846,u-796/u-823,ga-828/u-843,u-823/u-843,u-823/u-843,u-823/u-860,u-823/u-846,u-864/u-885,u-885/u-918,u-860/u-885,u-843/u-885,u-860/u-864,u-845/u-876,u-876/ca-910,ca-910/u-964,u-964/ne-1002,ne-757/u-845,ne-757/u-845,ne-757/ne-801,ne-757/ne-806,ne-757/im-784,ne-757/ne-746,ne-757/ne-747,ne-801/u-823,ne-806/u-845,u-845/ne-801,ne-774/u-779,ne-774/u-796,u-798/ne-774,
			u-722/u-699,u-722/u-746,u-722/u-754,u-722/u-752,u-722/u-771,u-722/u-779,u-722/u-746,u-722/u-786,u-746/u-800,u-771/u-800,u-699/ena-677,u-699/ena-666,u-699/u-651,u-699/u-642,en-625/u-600,en-625/ena-651,u-651/im-704,u-651/im-687,u-642/im-687,u-642/im-709,u-634/u-651,u-634/u-600,u-642/u-651,u-642/u-651,u-642/u-734,u-686/u-642,u-677/u-642,
			u-642/u-544,u-642/co-613,u-642/co-605,u-642/co-615,u-642/u-635,u-642/u-647,u-642/u-647,u-642/u-689,u-544/co-605,u-544/co-613,u-544/co-615,u-544/u-635,u-544/im-673,u-544/im-655,u-544/im-672,u-544/u-647,u-544/he-640,u-544/u-710,u-544/u-725,u-544/im-766,u-544/u-689,u-544/ca-531,ca-475/u-544,u-544/u-587,u-647/u-683,u-647/im-672,u-689/u-710,u-635/u-689,im-655/u-683,
			u-734/u-827,u-734/im-741,u-734/im-742,u-734/u-725,u-734/im-721,u-734/im-766,u-734/im-774,u-734/ne-747,u-734/ne-746,u-827/im-766,u-827/im-774,ne-757/u-827,ne-746/u-827,u-725/u-827,u-884/u-839,u-884/hee-962,u-884/hed-947,u-884/u-849,u-884/u-858,u-884/u-877,u-827/u-839,
			u-683/im-697,u-683/im-699,u-683/im-666,u-683/im-682,u-683/ne-670,u-683/u-705,ne-670/u-705,u-705/en-724,u-705/u-720,u-705/u-720,ima-728/imb-707,
			u-587/u-645,u-587/ca-614,u-587/im-666,u-587/ne-670,u-587/ne-611,u-587/ca-475,u-587/u-513,ca-614/ne-670,ne-611/u-616,ne-637/u-616,ne-638/u-616,u-616/ne-584,u-616/ps-605,nel-566/u-523,
			u-312/u-344,u-312/u-344,u-311/u-344,u-344/u-315,u-344/u-367,u-344/mu-354,u-344/mu-368,u-344/u-368,u-344/u-320,u-344/u-435,u-315/u-320,u-315/u-435,u-315/u-367,u-315/u-368,mx-302/nec-309,u-320/u-435,u-320/u-400,u-320/u-368,u-320/u-368,u-400/ca-410,u-400/u-415,u-435/u-367,u-435/mu-368,u-435/u-400,u-435/u-498,u-435/u-507,u-435/me-522,u-435/me-522,u-435/ca-462,u-367/u-368,mu-354/u-368,mu-368/u-368,ne-178/nef-237,u-130/ne-178,ps-205/nef-243,u-197/u-245,u-197/nef-243,
			u-100/ps-88,u-100/ps-110,u-111/ps-88,u-111/ps-110,u-111/ne-128,u-111/dv-107,u-91/neh-100,u-119/neh-110,u-127/neh-119,
			mx-217/u-274,u-274/u-368,u-274/u-368,sk-259/im-305,im-305/u-368,im-305/can-360,dv-342/u-368,ca-371/u-368,
			u-533/u-534,u-548/u-534,u-548/me-522,u-533/me-522,u-548/u-600,u-548/mu-591,u-534/me-572,u-534/me-577,u-534/me-554,u-548/u-507,u-533/u-507,u-482/mx-457,u-482/mx-458,u-482/mx-472,mx-428/mx-457,u-498/mx-458,u-495/mx-457,u-507/mx-472,u-491/mx-457,u-482/u-533,u-495/u-533,u-491/u-533,u-498/u-533,u-507/u-548,u-507/u-435,u-498/u-435,me-522/me-536,me-536/u-600,me-598/u-600,u-435/u-600,ca-462/u-467,ca-484/u-467,ca-484/u-600,ca-462/ca-484,u-467/u-600,u-467/im-471,im-471/u-600,ca-449/im-471,im-471/u-481,u-481/u-600,mx-487/u-600,mx-487/u-481,ca-410/u-400,mu-426/ca-424,u-400/ca-424,ca-424/u-435,
			u-415/u-600,u-427/u-600,can-434/mx-487,can-445/u-481,u-481/nu-583,u-481/nu-585,ca-494/nu-585,ca-502/nu-590,ca-499/u-544,can-456/nu-582,can-449/nu-585,u-427/mx-487,u-415/mx-487,can-445/nu-583,can-445/nu-582,ca-502/nu-585,can-456/u-544,ca-465/can-443,ca-465/ca-475,ca-474/can-443,
			u-314/u-326,u-231/mxa-251,u-218/mxa-251,ca-225/mxa-251,u-218/u-231,u-326/ca-278,u-326/ca-248,u-326/ca-253,u-326/ca-282,u-326/ca-285,u-326/u-308,u-326/ca-311,u-326/ca-324,u-326/ca-317,u-326/ca-332,u-220/ca-248,u-220/ca-253,u-220/mx-168,u-220/mx-183,u-220/u-174,mx-168/u-174,mx-168/mx-183,mx-183/u-174,u-174/de-144,u-174/de-158,u-220/u-326,u-308/mx-252,u-308/u-316,u-316/ca-317,u-316/ca-325,u-316/ca-337,u-316/can-366,u-316/can-366,u-316/can-348,u-405/u-368,
			can-414/ca-380,can-414/ca-399,can-414/ca-410,can-414/co-393,can-392/ca-380,ca-395/can-392,ca-395/can-414,u-442/ca-428,u-442/ca-444,u-442/ca-429,u-442/ca-447,u-442/can-414,u-442/he-415,u-442/ca-433,u-442/ca-452,u-473/u-475,u-473/ca-475,u-502/en-505,u-513/canb-517,u-522/ca-531,u-432/ca-475,u-432/ca-475,can-414/ca-475,u-354/can-348}
			\draw[link] (\a) -- (\b);

		% Connectors of the small components
		\foreach \a/\b in {v-82/v-83,v-83/v-74,v-83/v-84,v-83/v-98,v-74/v-73,rim-98/rim-93,rim-93/rim-102,rim-102/v-102,v-102/rim-94,rim-94/rim-101,v-84/rhe-78,
			v-131/v-120,v-131/v-130,v-131/v-149,v-131/v-161,v-131/rmx-137,v-131/rmx-129,v-131/rmx-144,v-134/v-120,v-134/v-130,v-134/v-149,v-134/v-161,v-134/rmx-136,v-134/rmx-129,v-134/rmx-144,v-120/rmx-129,v-161/rmx-144,v-134/rne-138,rne-138/v-139,v-139/rmx-135,
			v-225/rsk-253,v-225/rsk-240,rsk-256/rsk-253,v-233/ren-220,v-233/ren-253,ren-236/v-233,
			v-293/rga-293,v-293/v-294,rde-285/rde-302,v-283/rde-309,v-283/rde-312,v-283/rde-284,v-283/v-297,v-283/rmx-289,v-297/rmx-289,v-283/rde-305,rmx-289/rmx-307,
			rdv-345/v-357,v-357/v-355,v-347/v-355,v-364/v-355,v-344/v-365,v-344/rdv-354,v-365/rdv-354,
			v-402/rop-416,v-400/v-401,rop-389/v-400,v-396/v-414,v-396/v-408,v-414/v-408,
			v-447/rhe-438,v-447/rhe-461,rhe-446/rhe-438,rhe-462/rhe-461,v-452/v-448,v-448/rre-465,v-448/rme-462,
			rdv-506/v-502,v-502/v-489,v-502/v-516,v-489/v-516,v-489/v-516,
			rbo-551/v-539,rbo-557/v-553,v-539/v-553,rbo-551/v-553,
			v-587/rde-596,v-587/v-586,v-587/rmx-581,rca-586/v-595,v-595/rmx-581,rca-587/rca-586,
			rca-627/v-623,v-623/v-622,v-676/rre-662,v-676/rre-666,v-676/rre-660,v-690/v-703,
			v-740/rop-736,v-740/rop-742,rop-774/rop-776,rop-767/rop-776,v-738/rne-738,v-780/rne-773,v-780/rne-787,rmx-737/v-743,rmx-745/v-743,rdv-775/v-778,
			rca-882/v-876,v-902/rmu-894,v-902/rmu-900,rdv-840/v-833,v-833/rmx-843,rop-880/v-875,v-875/rme-875,
			rhe-931/v-933,rhe-936/v-933,rhe-938/v-933,v-1002/rhe-1003,v-1002/rhe-1009,rne-1105/rne-1109,rne-1075/rne-1067,rne-1075/rne-1072,rne-1027/rne-1022,rne-1062/v-1060,
			v-1258/v-1268,v-1265/v-1268,rmu-1179/v-1182,rmu-1184/v-1182,rmu-1176/v-1182,v-1182/rdv-1184,v-1182/rdv-1191,v-1154/rmy-1146,v-1154/rmy-1151,v-1278/rco-1283,v-1274/rca-1278,v-1299/v-1302,v-1299/v-1295,v-1299/v-1300,v-1093/rre-1092,v-1117/rre-1118,v-1035/rme-1042,v-1273/rop-1268,v-1273/rop-1279,rbo-1164/rbo-1169,rbo-1136/rbo-1137}
			\draw[link] (\a) -- (\b);
		\mesh{rmy}
		\foreach \k in {5,6,7,8,9,10,11}
			\draw[limelink] (rhe4) -- (rhe\k);
		\foreach \a/\b in {rne-654/rne-678,rne-659/rne-678,rne-654/rne-659,rsk-240/rsk-253,rsk-253/rsk-236,rsk-240/rsk-236,rsk-253/rsk-242,rsk-236/rsk-223}
			\draw[pinklink] (\a) -- (\b);
		\foreach \a/\b in {ren-220/ren-236,ren-236/ren-253,ren-220/ren-253,rde-309/rde-285,rde-309/rde-302,rde-309/rde-306,rde-668/rde-670,rmu-540/rmu-560,v-553/rmu-560}
			\draw[bluelink] (\a) -- (\b);
		\foreach \a/\b in {rme-497/rme-510,rme-497/rme-507,rme-507/rme-516,rme-507/rme-502,rme-630/rme-631,rme-631/rme-640,rme-631/rme-623}
			\draw[orangelink] (\a) -- (\b);
	\end{scope}
\end{tikzpicture}
\end{document}
